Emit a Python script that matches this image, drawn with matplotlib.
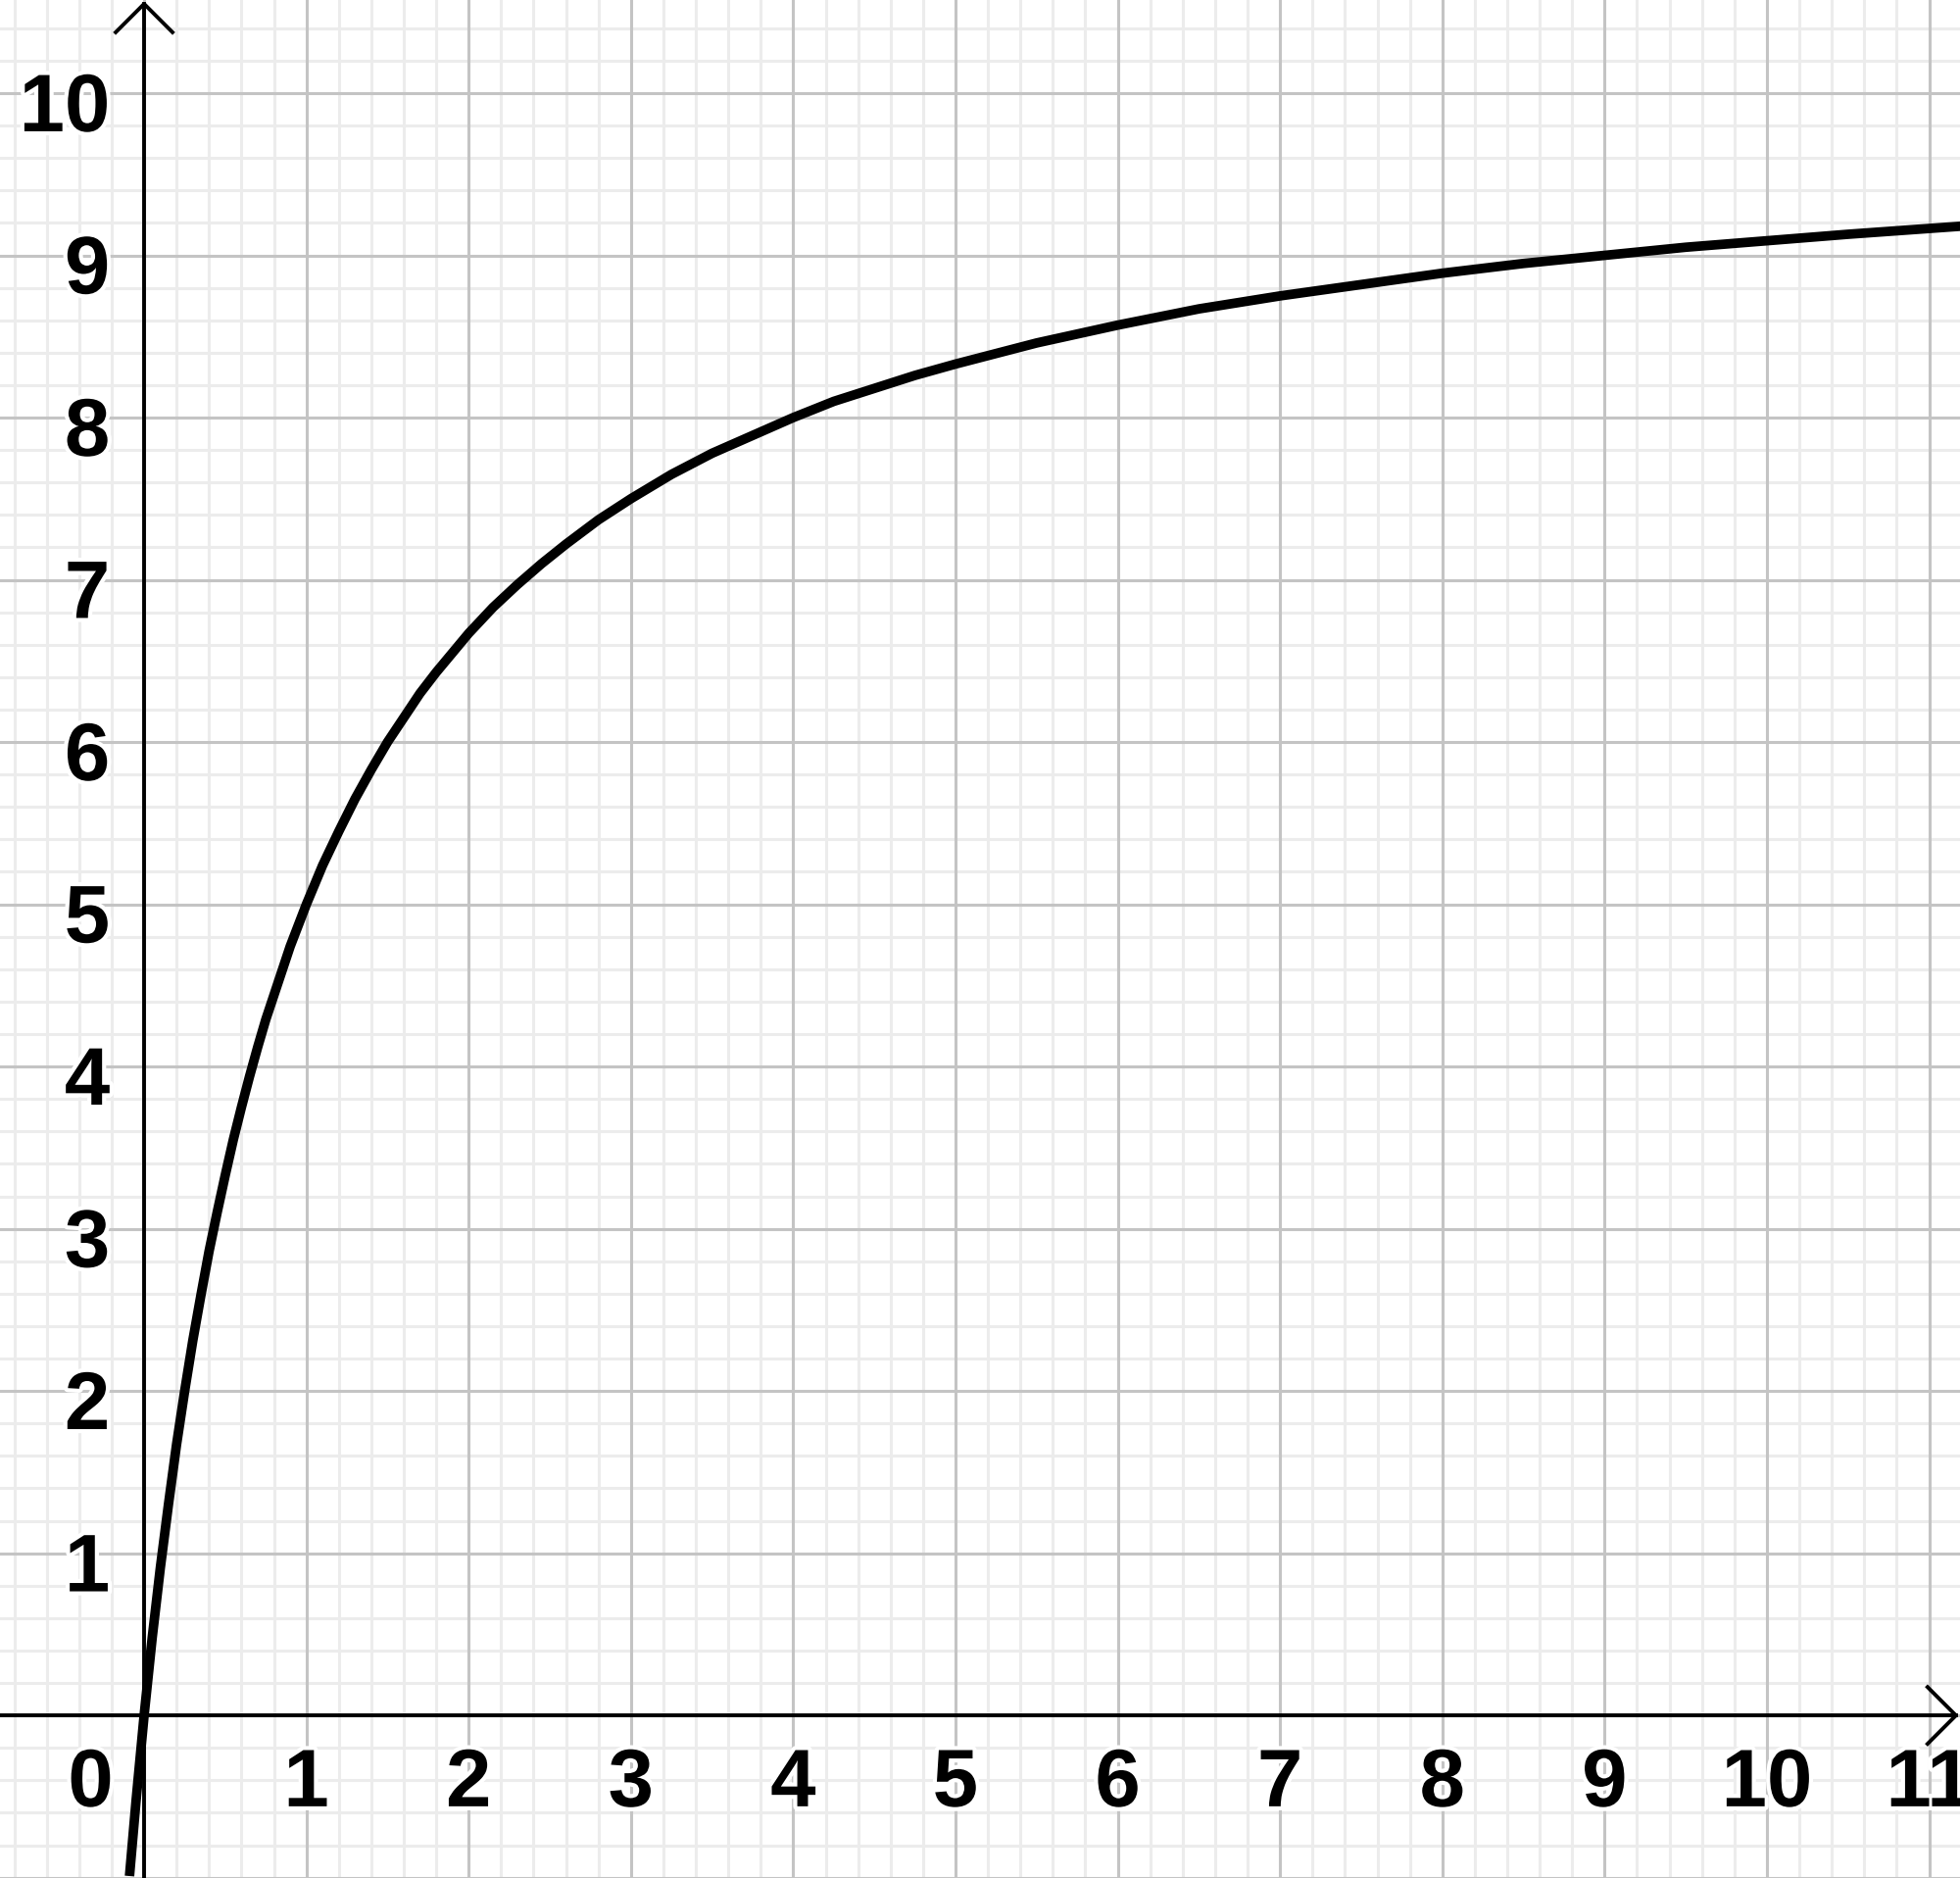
import matplotlib.pyplot as plt
import matplotlib.patheffects as pe

# points
xs = [-0.09, -0.05, 0.0, 0.05, 0.1, 0.15, 0.2, 0.25, 0.3, 0.35, 0.4, 0.45, 0.5, 0.55,
      0.6, 0.65, 0.7, 0.75, 0.8, 0.85, 0.9, 0.95, 1.0, 1.1, 1.2, 1.3, 1.4, 1.5, 1.6,
      1.7, 1.8, 1.9, 2.0, 2.15, 2.3, 2.45, 2.6, 2.8, 3.0, 3.25, 3.5, 3.75, 4.0, 4.25,
      4.5, 4.75, 5.0, 5.5, 6.0, 6.5, 7.0, 7.5, 8.0, 8.5, 9.0, 9.5, 10.0, 10.5, 11.2]
ys = [-0.99, -0.53, 0.0, 0.48, 0.91, 1.30, 1.67, 2.00, 2.31, 2.59, 2.86, 3.10, 3.33, 3.55,
      3.75, 3.94, 4.12, 4.29, 4.44, 4.59, 4.74, 4.87, 5.00, 5.24, 5.45, 5.65, 5.83, 6.00, 6.15,
      6.30, 6.43, 6.55, 6.67, 6.83, 6.97, 7.10, 7.22, 7.37, 7.50, 7.65, 7.78, 7.89, 8.00, 8.10,
      8.18, 8.26, 8.33, 8.46, 8.57, 8.67, 8.75, 8.82, 8.89, 8.95, 9.00, 9.05, 9.09, 9.13, 9.18]

x_labels = list(range(1, 12))
y_labels = list(range(1, 11))

xmin, xmax = -0.888, 11.19
ymin, ymax = -1.002, 10.574

fig = plt.figure(figsize=(20, 19.16), dpi=100)
ax = fig.add_axes([0, 0, 1, 1])
ax.set_xlim(xmin, xmax)
ax.set_ylim(ymin, ymax)
ax.axis('off')

# grid paper
k = -4
while k * 0.2 < xmax:
    v = k * 0.2
    major = k % 5 == 0
    ax.axvline(v, color='#c4c4c4' if major else '#ececec', lw=2.2, zorder=1 if major else 0)
    k += 1
k = -5
while k * 0.2 < ymax:
    v = k * 0.2
    major = k % 5 == 0
    ax.axhline(v, color='#c4c4c4' if major else '#ececec', lw=2.2, zorder=1 if major else 0)
    k += 1

# axes with open arrowheads
u = 0.175
ytip = 10.55
xtip = 11.165
ax.plot([0, 0], [ymin, ytip], color='black', lw=2.8, zorder=3)
ax.plot([-u, 0, u], [ytip - u, ytip, ytip - u], color='black', lw=2.8, zorder=3)
ax.plot([xmin, xtip], [0, 0], color='black', lw=2.8, zorder=3)
ax.plot([xtip - u, xtip, xtip - u], [u, 0, -u], color='black', lw=2.8, zorder=3)

# curve
ax.plot(xs, ys, color='black', lw=7, solid_capstyle='butt', solid_joinstyle='round', zorder=4)

outline = [pe.withStroke(linewidth=6, foreground='white')]
fs = 60
for v in x_labels:
    ax.text(v, -0.56, str(v), ha='center', va='baseline', fontsize=fs, fontweight='bold',
            family='Liberation Sans', path_effects=outline, zorder=5)
for v in y_labels:
    ax.text(-0.21, v - 0.235, str(v), ha='right', va='baseline', fontsize=fs, fontweight='bold',
            family='Liberation Sans', path_effects=outline, zorder=5)
ax.text(-0.19, -0.56, '0', ha='right', va='baseline', fontsize=fs, fontweight='bold',
        family='Liberation Sans', path_effects=outline, zorder=2)

fig.savefig('out.png', dpi=100)
